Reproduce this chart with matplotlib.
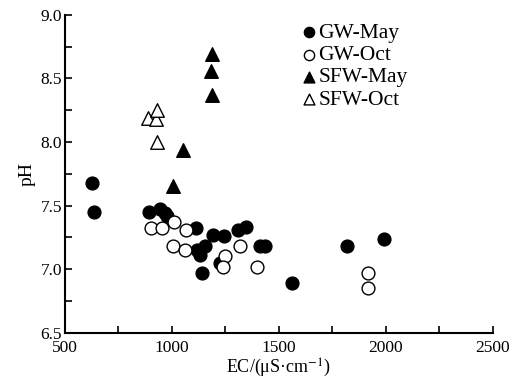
import matplotlib
matplotlib.use('Agg')
import matplotlib.pyplot as plt
from matplotlib.ticker import MultipleLocator

plt.rcParams['font.family'] = ['Liberation Serif', 'DejaVu Serif']
plt.rcParams['mathtext.fontset'] = 'stix'

# datos
gw_may_ec = [625, 636, 894, 944, 968, 978, 1111, 1116, 1131, 1155, 1139, 1194,
             1244, 1225, 1308, 1346, 1412, 1435, 1560, 1817, 1993]
gw_may_ph = [7.68, 7.45, 7.45, 7.47, 7.44, 7.42, 7.32, 7.15, 7.11, 7.18, 6.97, 7.27,
             7.26, 7.05, 7.31, 7.33, 7.18, 7.18, 6.89, 7.18, 7.24]

gw_oct_ec = [902, 955, 1011, 1066, 1007, 1061, 1248, 1237, 1318, 1396, 1919, 1919]
gw_oct_ph = [7.32, 7.32, 7.37, 7.31, 7.18, 7.15, 7.10, 7.02, 7.18, 7.02, 6.97, 6.85]

sfw_may_ec = [1189, 1183, 1189, 1053, 1007]
sfw_may_ph = [8.69, 8.56, 8.37, 7.94, 7.65]

sfw_oct_ec = [890, 926, 929, 929]
sfw_oct_ph = [8.19, 8.18, 8.25, 8.00]

fig = plt.figure(figsize=(5.1, 3.81), dpi=100)
ax = fig.add_axes([0.1275, 0.127, 0.8385, 0.834])

ax.scatter(gw_may_ec, gw_may_ph, s=85, marker='o', c='black', label='GW-May', zorder=3)
ax.scatter(gw_oct_ec, gw_oct_ph, s=85, marker='o', facecolors='white', edgecolors='black',
           linewidths=1.0, label='GW-Oct', zorder=4)
ax.scatter(sfw_may_ec, sfw_may_ph, s=95, marker='^', c='black', label='SFW-May', zorder=3)
ax.scatter(sfw_oct_ec, sfw_oct_ph, s=95, marker='^', facecolors='white', edgecolors='black',
           linewidths=1.0, label='SFW-Oct', zorder=4)

ax.set_xlim(500, 2500)
ax.set_ylim(6.5, 9.0)
ax.xaxis.set_major_locator(MultipleLocator(500))
ax.xaxis.set_minor_locator(MultipleLocator(250))
ax.yaxis.set_major_locator(MultipleLocator(0.5))
ax.yaxis.set_minor_locator(MultipleLocator(0.25))
ax.tick_params(which='both', direction='in', length=5, width=1.2, labelsize=12.5)
ax.tick_params(axis='x', pad=5)
ax.tick_params(axis='y', pad=2)

for s in ['top', 'right']:
    ax.spines[s].set_visible(False)
for s in ['left', 'bottom']:
    ax.spines[s].set_linewidth(1.5)

ax.set_xlabel('EC/(μS·cm$^{-1}$)', fontsize=13, labelpad=0.5)
ax.set_ylabel('pH', fontsize=14, labelpad=4)

ax.legend(loc='upper left', bbox_to_anchor=(0.514, 1.022), frameon=False, fontsize=15.5,
          markerscale=0.8, handlelength=0.8, handletextpad=0.05, labelspacing=0.1,
          borderaxespad=0.3)

fig.savefig('out.png', dpi=100)
